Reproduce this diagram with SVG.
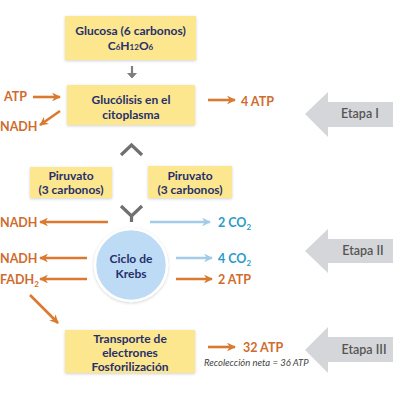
<svg xmlns="http://www.w3.org/2000/svg" width="400" height="400" viewBox="0 0 400 400">
<defs>
<style>
.box{fill:#FCE68E;}
.bt{font-family:Lato,"Liberation Sans",sans-serif;font-weight:bold;font-size:12px;fill:#26306B;text-anchor:middle;}
.ot{font-family:Lato,"Liberation Sans",sans-serif;font-weight:bold;font-size:12.5px;fill:#D06B2E;}
.blt{font-family:Lato,"Liberation Sans",sans-serif;font-weight:bold;font-size:12.5px;fill:#2A9BC9;}
.et{font-family:Lato,"Liberation Sans",sans-serif;font-size:12.5px;font-weight:600;fill:#555;text-anchor:middle;}
.oa{stroke:#DA7A30;stroke-width:2.6;fill:none;marker-end:url(#oh);}
.ba{stroke:#A3CCE8;stroke-width:2.6;fill:none;marker-end:url(#bh);}
.stage{fill:#D5D6D9;}
.chev{stroke:#707070;stroke-width:3.2;fill:none;}
</style>
<marker id="oh" viewBox="0 0 10 10" refX="9" refY="5" markerWidth="3.4" markerHeight="3.4" orient="auto"><path d="M0,0 L10,5 L0,10 L3,5 Z" fill="#DA7A30"/></marker>
<marker id="bh" viewBox="0 0 10 10" refX="9" refY="5" markerWidth="3.4" markerHeight="3.4" orient="auto"><path d="M0,0 L10,5 L0,10 L3,5 Z" fill="#A3CCE8"/></marker>
<filter id="sh" x="-10%" y="-10%" width="120%" height="130%"><feDropShadow dx="0" dy="1" stdDeviation="1.5" flood-color="#000" flood-opacity="0.18"/></filter>
</defs>
<rect width="400" height="400" fill="#fff"/>

<g id="glucosa">
<rect class="box" x="65" y="16" width="131" height="44" filter="url(#sh)"/>
<text class="bt" x="130.5" y="35">Glucosa (6 carbonos)</text>
<text class="bt" x="130.5" y="50" font-size="11">C<tspan font-size="8">6</tspan>H<tspan font-size="8">12</tspan>O<tspan font-size="8">6</tspan></text>
</g>

<g id="glucolisis">
<rect class="box" x="67" y="85" width="128" height="40" filter="url(#sh)"/>
<text class="bt" x="131" y="104">Glucólisis en el</text>
<text class="bt" x="131" y="119">citoplasma</text>
</g>

<g id="piruvato1">
<rect class="box" x="30" y="167" width="82" height="31" filter="url(#sh)"/>
<text class="bt" x="71" y="180">Piruvato</text>
<text class="bt" x="71" y="194">(3 carbonos)</text>
</g>

<g id="piruvato2">
<rect class="box" x="148" y="166" width="84" height="32" filter="url(#sh)"/>
<text class="bt" x="190" y="180">Piruvato</text>
<text class="bt" x="190" y="194">(3 carbonos)</text>
</g>

<g id="krebs">
<circle cx="131" cy="265" r="36" fill="#BDDBF4" stroke="#fff" stroke-width="2.5" filter="url(#sh)"/>
<text class="bt" x="131" y="263" font-size="12.5">Ciclo de</text>
<text class="bt" x="131" y="278" font-size="12.5">Krebs</text>
</g>

<g id="transporte">
<rect class="box" x="65" y="330" width="130" height="43" filter="url(#sh)"/>
<text class="bt" x="130" y="343" font-size="11.5">Transporte de</text>
<text class="bt" x="130" y="357" font-size="11.5">electrones</text>
<text class="bt" x="130" y="371" font-size="11.5">Fosforilización</text>
</g>

<g id="etapa1">
<path class="stage" d="M305,114 L328,92 L328,102 L393,102 L393,127 L328,127 L328,137 Z"/>
<text class="et" x="360" y="118">Etapa I</text>
</g>
<g id="etapa2">
<path class="stage" d="M305,251 L328,229 L328,239 L393,239 L393,263 L328,263 L328,273 Z"/>
<text class="et" x="363" y="255">Etapa II</text>
</g>
<g id="etapa3">
<path class="stage" d="M305,350 L328,327 L328,337 L393,337 L393,362 L328,362 L328,373 Z"/>
<text class="et" x="364" y="354">Etapa III</text>
</g>

<g id="labels">
<text class="ot" x="4" y="101">ATP</text>
<text class="ot" x="0" y="131">NADH</text>
<text class="ot" x="241" y="106">4 ATP</text>
<text class="ot" x="0" y="227">NADH</text>
<text class="blt" x="218" y="227">2 CO<tspan font-size="8" dy="3">2</tspan></text>
<text class="ot" x="0" y="263">NADH</text>
<text class="ot" x="0" y="284">FADH<tspan font-size="8" dy="3">2</tspan></text>
<text class="blt" x="218" y="263">4 CO<tspan font-size="8" dy="3">2</tspan></text>
<text class="ot" x="218" y="284">2 ATP</text>
<text class="ot" x="243" y="352" font-size="13">32 ATP</text>
<text x="204" y="366" font-family="Lato,'Liberation Sans',sans-serif" font-style="italic" font-size="9.5" fill="#444">Recolección neta = 36 ATP</text>
</g>

<g id="connectors">
<path d="M132,66 L132,76" stroke="#7F7F7F" stroke-width="2.2"/>
<path d="M127.5,73 L132,78 L136.5,73" fill="#7F7F7F" stroke="#7F7F7F" stroke-width="1"/>
<path class="chev" d="M121,155 L131.5,145 L142,155"/>
<path class="chev" d="M121,206 L131.5,216 L142,206"/>
<path d="M131.5,214 L131.5,222" stroke="#707070" stroke-width="3.2"/>
<path class="oa" d="M33,97 L60,97"/>
<path class="oa" d="M60,111 L40,125"/>
<path class="oa" d="M208,100 L235,100"/>
<path class="oa" d="M108,222 L40,222"/>
<path class="ba" d="M150,222 L210,222"/>
<path class="oa" d="M87,258 L40,258"/>
<path class="oa" d="M87,279 L40,279"/>
<path class="ba" d="M176,258 L212,258"/>
<path class="oa" d="M176,279 L212,279"/>
<path class="oa" d="M30,295 L58,323"/>
<path class="oa" d="M208,347 L235,347"/>
</g>
</svg>
